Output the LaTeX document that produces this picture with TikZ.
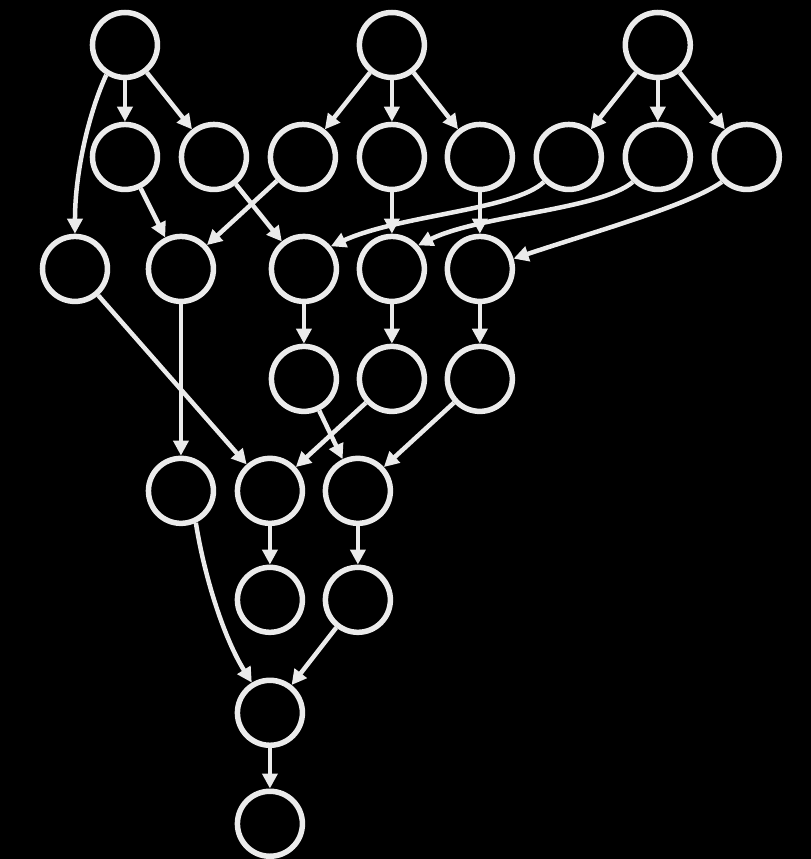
\documentclass[tikz,border=0pt]{standalone}
\usetikzlibrary{arrows.meta}
\definecolor{BgClr}{rgb}{0,0,0}
\definecolor{LineClr}{rgb}{0.92,0.92,0.92}

\begin{document}
\begin{tikzpicture}[x=1pt,y=-1pt,
  vert/.style={circle,draw=LineClr,line width=5.5pt,minimum size=65pt,inner sep=0pt},
  arc/.style={draw=LineClr,line width=4.5pt,-{Triangle[length=15pt,width=15pt]}}]
\fill[BgClr] (0,0) rectangle (811,859);

\foreach \n/\x/\y in {a1/125/45,a2/392/45,a3/658/45,
  b1/125/157,b2/214/157,b3/303/157,b4/392/157,b5/480/157,b6/569/157,b7/658/157,b8/747/157,
  c1/75/269,c2/181/269,c3/304/269,c4/392/269,c5/480/269,
  d1/304/379,d2/392/379,d3/480/379,
  e1/181/491,e2/270/491,e3/358/491,
  f1/270/600,f2/358/600,
  g1/270/713,h1/270/824}
  \node[vert] (\n) at (\x,\y) {};

\foreach \s/\t in {a1/b1,a1/b2,a2/b3,a2/b4,a2/b5,a3/b6,a3/b7,a3/b8,
  b1/c2,b2/c3,b3/c2,b4/c4,b5/c5,
  c1/e2,c2/e1,c3/d1,c4/d2,c5/d3,
  d1/e3,d2/e2,d3/e3,
  e2/f1,e3/f2,f2/g1,g1/h1}
  \draw[arc] (\s) -- (\t);

\draw[arc] (a1.-122) .. controls (90,110) and (75,170) .. (c1.90);
\draw[arc] (b6.-135) .. controls (515,210) and (400,215) .. (c3.40);
\draw[arc] (b7.-135) .. controls (600,210) and (480,215) .. (c4.42);
\draw[arc] (b8.-135) .. controls (690,205) and (600,230) .. (c5.17);
\draw[arc] (e1.-65) .. controls (205,580) and (225,640) .. (g1.121);

\end{tikzpicture}
\end{document}
